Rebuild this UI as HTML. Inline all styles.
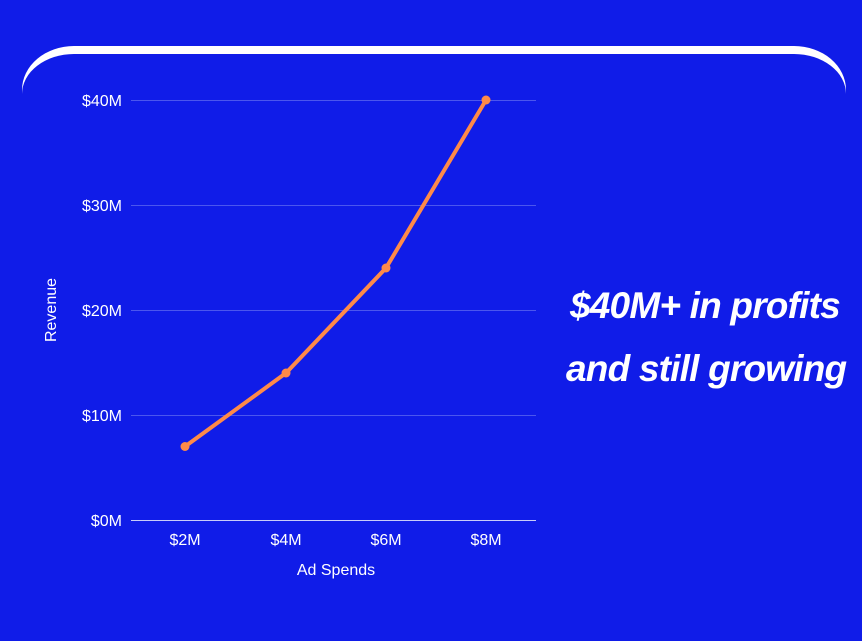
<!DOCTYPE html>
<html><head><style>
html,body{margin:0;padding:0;}
body{width:862px;height:641px;background:#101ce8;position:relative;overflow:hidden;font-family:"Liberation Sans",sans-serif;}
.arc1{position:absolute;left:22px;top:46px;width:824px;height:120px;border-radius:52px/44px;background:#fff;}
.arc2{position:absolute;left:22px;top:54px;width:824px;height:140px;border-radius:52px 52px 0 0/40px 40px 0 0;background:#101ce8;}
svg{position:absolute;left:0;top:0;}
.t{position:absolute;color:#fff;font-family:"Liberation Sans",sans-serif;font-weight:bold;font-style:italic;font-size:37px;letter-spacing:-0.8px;white-space:nowrap;}
</style></head><body>
<div class="arc1"></div><div class="arc2"></div>
<svg width="862" height="641">
<g stroke="#4b56ee" stroke-width="1">
<line x1="131" y1="100.5" x2="536" y2="100.5"/>
<line x1="131" y1="205.5" x2="536" y2="205.5"/>
<line x1="131" y1="310.5" x2="536" y2="310.5"/>
<line x1="131" y1="415.5" x2="536" y2="415.5"/>
</g>
<line x1="131" y1="520.5" x2="536" y2="520.5" stroke="#c8ccfa" stroke-width="1"/>
<g fill="#fff" font-family="Liberation Sans, sans-serif" font-size="16" text-anchor="end">
<text x="122" y="106">$40M</text>
<text x="122" y="211">$30M</text>
<text x="122" y="316">$20M</text>
<text x="122" y="421">$10M</text>
<text x="122" y="526">$0M</text>
</g>
<g fill="#fff" font-family="Liberation Sans, sans-serif" font-size="16" text-anchor="middle">
<text x="185" y="545">$2M</text>
<text x="286" y="545">$4M</text>
<text x="386" y="545">$6M</text>
<text x="486" y="545">$8M</text>
<text x="336" y="575">Ad Spends</text>
<text transform="translate(56,310) rotate(-90)">Revenue</text>
</g>
<polyline points="185,446.5 286,373 386,268 486,100" fill="none" stroke="#ff8a48" stroke-width="4" stroke-linejoin="round"/>
<g fill="#ff8a48">
<circle cx="185" cy="446.5" r="4.5"/><circle cx="286" cy="373" r="4.5"/><circle cx="386" cy="268" r="4.5"/><circle cx="486" cy="100" r="4.5"/>
</g>
</svg>
<div class="t" style="top:285px;left:570px;">$40M+ in profits</div>
<div class="t" style="top:348px;left:566px;">and still growing</div>
</body></html>
